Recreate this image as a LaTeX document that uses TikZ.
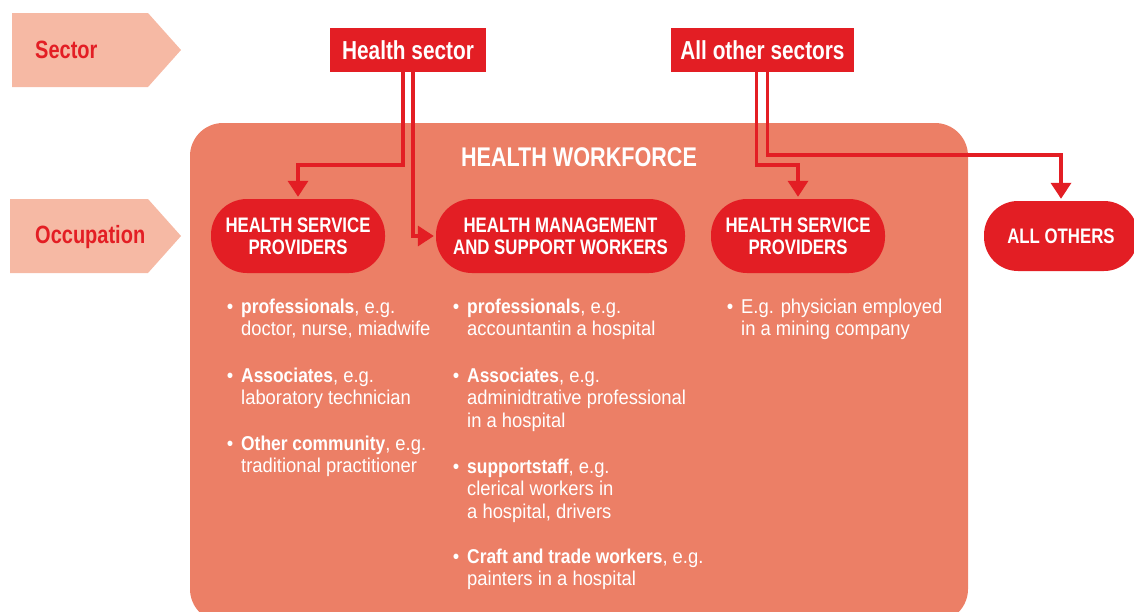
\documentclass[tikz,border=0pt]{standalone}
\usepackage{fontspec}
\setmainfont{Liberation Sans}[UprightFeatures={FakeStretch=0.92},BoldFeatures={FakeStretch=0.87}]
\newfontfamily\hfont{Liberation Sans}[FakeStretch=0.8]
\usetikzlibrary{arrows.meta}
\definecolor{hred}{HTML}{E31E24}
\definecolor{salmon}{HTML}{EC7F66}
\definecolor{pale}{HTML}{F6B9A4}
\newcommand{\bul}{\llap{\textbullet\hspace{8pt}}}
\begin{document}
\begin{tikzpicture}[x=1pt,y=-1pt,
  secbox/.style={fill=hred, text=white, font=\hfont\bfseries\fontsize{26}{30}\selectfont, inner sep=0, minimum height=44pt},
  pill/.style={fill=hred, text=white, rounded corners=36pt, minimum height=74pt, inner sep=0, align=center, font=\hfont\bfseries\fontsize{21}{22}\selectfont},
  lbl/.style={text=hred, font=\hfont\bfseries\fontsize{25}{28}\selectfont, anchor=base west, inner sep=0},
  item/.style={text=white, anchor=north west, inner sep=0, align=left, font=\fontsize{20}{22.75}\selectfont},
  conn/.style={draw=hred, line width=3.5pt, -{Triangle[width=20pt,length=16pt]}, shorten >=2pt}]
\useasboundingbox (0,0) rectangle (1134,611);
\clip (0,0) rectangle (1134,611);
% row markers
\fill[pale] (12,13) -- (148,13) -- (181,50) -- (148,87) -- (12,87) -- cycle;
\fill[pale] (10,199) -- (148,199) -- (181,236) -- (148,273) -- (10,273) -- cycle;
\node[lbl] (sec) at (35,58) {Sector};
\node[lbl] (occ) at (35,243) {Occupation};
% workforce panel
\fill[salmon, rounded corners=33pt] (190,123) rectangle (968,622);
\node[text=white, font=\hfont\bfseries\fontsize{27}{30}\selectfont, inner sep=0, anchor=base] (hw) at (579,166) {HEALTH WORKFORCE};
% sector boxes
\node[secbox, minimum width=156pt] (hs) at (408,50) {Health sector};
\node[secbox, minimum width=183pt] (aos) at (762.5,50) {All other sectors};
% occupation pills
\node[pill, minimum width=174pt] (hsp1) at (298,236) {HEALTH SERVICE\\PROVIDERS};
\node[pill, minimum width=249pt] (hmsw) at (560.5,236) {HEALTH MANAGEMENT\\AND SUPPORT WORKERS};
\node[pill, minimum width=174pt] (hsp2) at (798,236) {HEALTH SERVICE\\PROVIDERS};
\node[pill, minimum width=154pt, minimum height=70pt, rounded corners=34pt] (allo) at (1061,236) {ALL OTHERS};
% connectors
\draw[conn] ([xshift=-5pt]hs.south) -- ++(0,93) -| (hsp1.north);
\draw[conn] ([xshift=5pt]hs.south) |- (hmsw.west);
\draw[conn] ([xshift=-6pt]aos.south) -- ++(0,93) -| (hsp2.north);
\draw[conn] ([xshift=5pt]aos.south) -- ++(0,83) -| (allo.north);
% column 1
\node[item] (c1a) at (241,297.1) {\strut\bul\textbf{professionals}, e.g.\\doctor, nurse, miadwife};
\node[item] (c1b) at (241,366.1) {\strut\bul\textbf{Associates}, e.g.\\laboratory technician};
\node[item] (c1c) at (241,434.1) {\strut\bul\textbf{Other community}, e.g.\\traditional practitioner};
% column 2
\node[item] (c2a) at (467,297.1) {\strut\bul\textbf{professionals}, e.g.\\accountantin a hospital};
\node[item] (c2b) at (467,366.1) {\strut\bul\textbf{Associates}, e.g.\\adminidtrative professional\\in a hospital};
\node[item] (c2c) at (467,457.1) {\strut\bul\textbf{supportstaff}, e.g.\\clerical workers in\\a hospital, drivers};
\node[item] (c2d) at (467,547.1) {\strut\bul\textbf{Craft and trade workers}, e.g.\\painters in a hospital};
% column 3
\node[item] (c3a) at (741,297.1) {\strut\bul E.g. physician employed\\in a mining company};
\end{tikzpicture}
\end{document}
